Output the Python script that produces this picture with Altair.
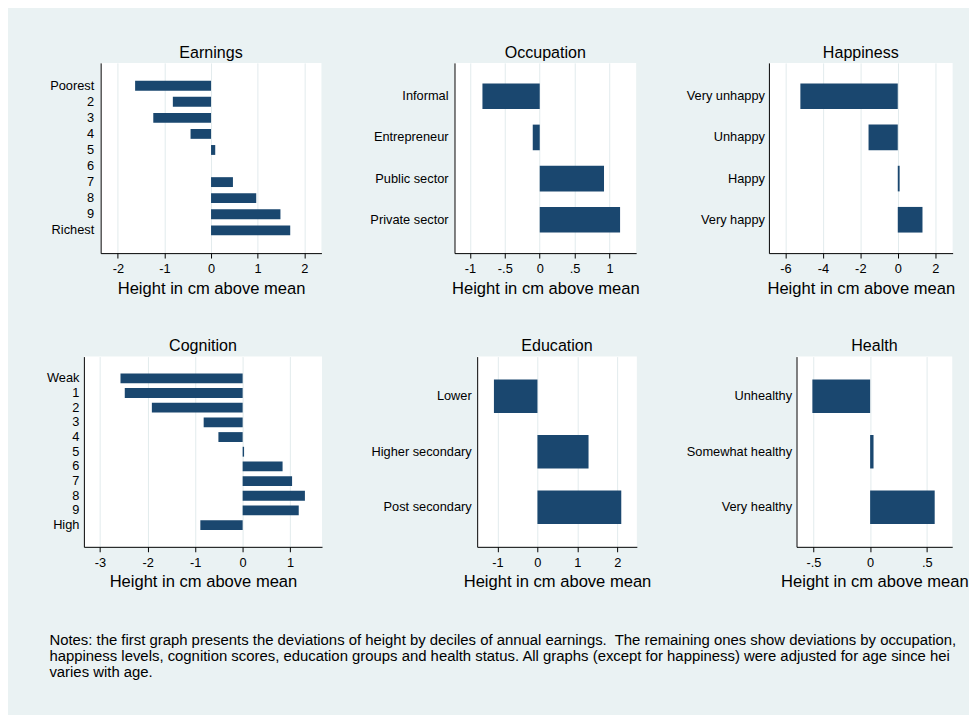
import altair as alt
import pandas as pd

BG = "#EAF2F3"
BAR = "#1A476F"
GRID = "#E2EBED"
FONT = "Liberation Sans"

EARN_CATS = ["Poorest", "2", "3", "4", "5", "6", "7", "8", "9", "Richest"]
EARN_VALS = [-1.63, -0.82, -1.24, -0.44, 0.09, 0.0, 0.47, 0.97, 1.49, 1.70]

OCC_CATS = ["Informal", "Entrepreneur", "Public sector", "Private sector"]
OCC_VALS = [-0.82, -0.10, 0.92, 1.15]

HAP_CATS = ["Very unhappy", "Unhappy", "Happy", "Very happy"]
HAP_VALS = [-5.20, -1.56, 0.10, 1.32]

COG_CATS = ["Weak", "1", "2", "3", "4", "5", "6", "7", "8", "9", "High"]
COG_VALS = [-2.57, -2.48, -1.91, -0.82, -0.51, 0.03, 0.84, 1.04, 1.31, 1.18, -0.89]

EDU_CATS = ["Lower", "Higher secondary", "Post secondary"]
EDU_VALS = [-1.09, 1.28, 2.10]

HEA_CATS = ["Unhealthy", "Somewhat healthy", "Very healthy"]
HEA_VALS = [-0.51, 0.03, 0.57]

NOTES = [
    "Notes: the first graph presents the deviations of height by deciles of annual earnings.\u00a0 The remaining ones show deviations by occupation,",
    "happiness levels, cognition scores, education groups and health status. All graphs (except for happiness) were adjusted for age since height",
    "varies with age.",
]

XTITLE = "Height in cm above mean"

LABEL_EXPR = (
    "(datum.value < 0 ? '-' : '') + "
    "(abs(datum.value) < 1 && datum.value != 0 ? "
    "substring(toString(abs(datum.value)), 1) : toString(abs(datum.value)))"
)


def panel(title, cats, vals, domain, ticks, width, extent, lpad, pin, pout, size, height=193):
    df = pd.DataFrame({"cat": cats, "val": vals})
    return (
        alt.Chart(
            df,
            title=alt.TitleParams(
                title, fontSize=16.3, font=FONT, fontWeight="normal", color="black",
                anchor="middle", frame="group", offset=2,
            ),
        )
        .mark_bar(color=BAR, size=size)
        .encode(
            x=alt.X(
                "val:Q",
                scale=alt.Scale(domain=domain, nice=False, zero=False),
                axis=alt.Axis(
                    values=ticks, labelExpr=LABEL_EXPR, title=XTITLE,
                    grid=True, gridColor=GRID, gridWidth=1,
                    domainColor="black", domainWidth=1,
                    tickColor="black", tickSize=5, tickWidth=1,
                    labelPadding=5, labelFontSize=13, labelColor="black", labelFont=FONT,
                    titleFontSize=16.8, titleFontWeight="normal", titleColor="black", titleFont=FONT,
                    titlePadding=2.5, minExtent=25, maxExtent=25, labelFlush=False,
                ),
            ),
            x2=alt.datum(0),
            y=alt.Y(
                "cat:N",
                sort=cats,
                scale=alt.Scale(paddingInner=pin, paddingOuter=pout),
                axis=alt.Axis(
                    title=None, ticks=False, tickSize=0, labelPadding=lpad,
                    domainColor="black", domainWidth=1,
                    labelFontSize=13, labelColor="black", labelFont=FONT,
                    minExtent=extent, maxExtent=extent,
                ),
            ),
        )
        .properties(width=width, height=height,
                    view=alt.ViewBackground(fill="white", strokeWidth=0))
    )


def spacer(height=193):
    # invisible 1px-wide cell that pins each row's left edge to the chart's left edge
    return (
        alt.Chart(pd.DataFrame({"k": [0]}))
        .mark_rect(opacity=0)
        .encode(x=alt.value(0), x2=alt.value(1), y=alt.value(0), y2=alt.value(1))
        .properties(width=1, height=height,
                    view=alt.ViewBackground(fill=BG, strokeWidth=0))
    )


p1 = panel("Earnings", EARN_CATS, EARN_VALS, [-2.37, 2.37], [-2, -1, 0, 1, 2], 224, 92.5, 7, 0.16, 1.0, 10)
p2 = panel("Occupation", OCC_CATS, OCC_VALS, [-1.22, 1.38], [-1, -0.5, 0, 0.5, 1], 184.3, 134.5, 6.5, 0.378, 0.5, 26)
p3 = panel("Happiness", HAP_CATS, HAP_VALS, [-6.88, 2.93], [-6, -4, -2, 0, 2], 186.4, 131, 4.5, 0.378, 0.5, 26)

p4 = panel("Cognition", COG_CATS, COG_VALS, [-3.34, 1.67], [-3, -2, -1, 0, 1], 241.6, 75.5, 5, 0.04, 1.0, 10)
p5 = panel("Education", EDU_CATS, EDU_VALS, [-1.51, 2.49], [-1, 0, 1, 2], 162, 157, 6, 0.397, 0.414, 34)
p6 = panel("Health", HEA_CATS, HEA_VALS, [-0.65, 0.725], [-0.5, 0, 0.5], 158, 147, 5, 0.397, 0.414, 34)

row1 = alt.hconcat(spacer(), p1, p2, p3, spacing=0)
row2 = alt.hconcat(spacer(), p4, p5, p6, spacing=0)

notes = (
    alt.Chart(pd.DataFrame({"k": [0]}))
    .mark_text(
        align="left", baseline="top", fontSize=15.1, lineHeight=16.5,
        limit=927, ellipsis=" ", color="black", font=FONT,
    )
    .encode(x=alt.value(42), y=alt.value(1.5), text=alt.value(NOTES))
    .properties(width=969, height=85,
                view=alt.ViewBackground(fill=BG, strokeWidth=0))
)

chart = (
    alt.vconcat(row1, row2, notes, spacing=41)
    .properties(background=BG, padding={"left": 0, "top": 31.5, "right": 0, "bottom": 0})
    .configure_view(strokeWidth=0)
)

chart.save("out.html", embed_options={"renderer": "svg", "actions": False})
